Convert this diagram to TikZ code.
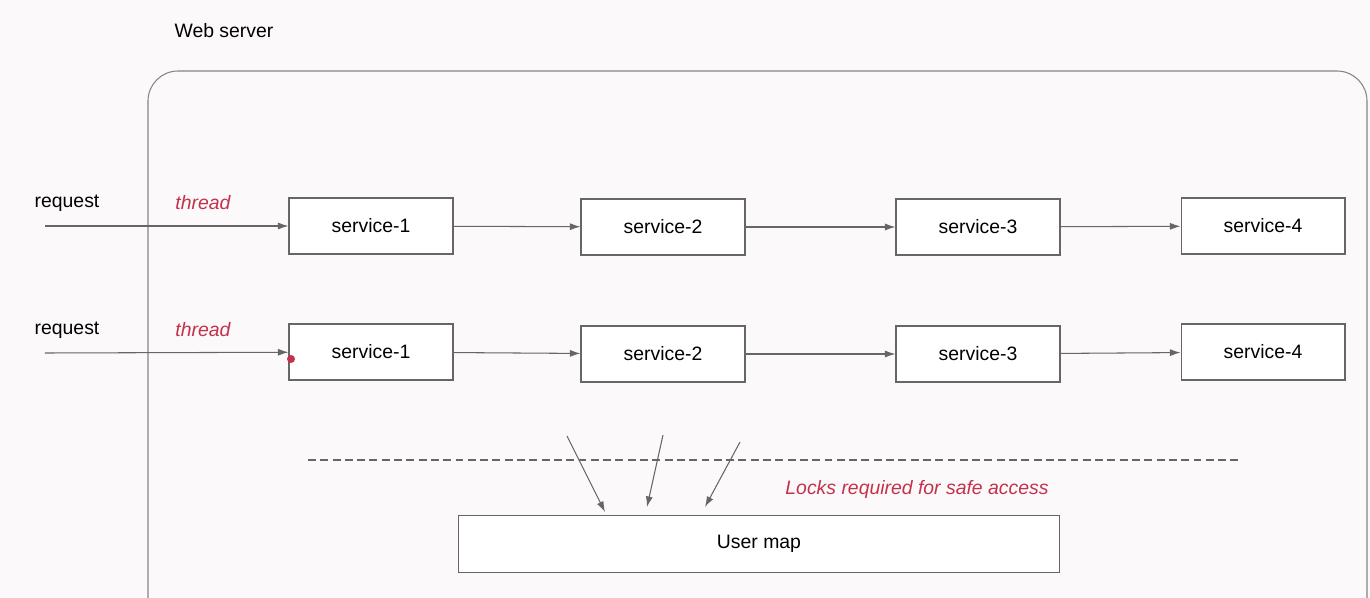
\documentclass[tikz,border=0pt]{standalone}
\usepackage{fontspec}
\setmainfont{Liberation Sans}
\usetikzlibrary{arrows.meta,positioning}
\definecolor{wsGrey}{HTML}{666666}
\definecolor{wsRed}{HTML}{C4314B}
\definecolor{wsBack}{HTML}{FCF9FB}

\begin{document}
\begin{tikzpicture}[
  x=0.02cm, y=-0.02cm,
  >={Latex[length=6pt,width=4pt]},
  font=\fontsize{11bp}{13bp}\selectfont,
  svc/.style   ={draw=wsGrey, fill=white, line width=0.6pt, inner sep=0pt,
                 minimum width=3.28cm, minimum height=1.12cm},
  flow/.style  ={->, draw=wsGrey, line width=0.6pt},
  frame/.style ={draw=wsGrey!80, line width=0.6pt, rounded corners=0.6cm},
  lbl/.style   ={inner sep=0pt},
  thr/.style   ={inner sep=0pt, text=wsRed, font=\fontsize{11bp}{13bp}\selectfont\itshape},
]

% ---- page: the picture is measured in pixels of the 1370 x 598 frame -------------
\useasboundingbox (0,0) rectangle (1370,598);
\fill[wsBack] (0,0) rectangle (1370,598);
\clip (0,0) rectangle (1370,598);

% ---- the web server box, open at the bottom edge ---------------------------------
\node[lbl] (ws) at (224,31) {Web server};
\draw[frame] (148,640) -- (148,71) -- (1367,71) -- (1367,640);

% ============================================================ FIRST REQUEST
\node[lbl] (req1) at (67,203) {request};
\node[thr] (thr1) at (203,203) {thread};
\coordinate (in1) at (45,226);

\node[svc] (s11) at (371,226) {service-1};
\node[svc] (s12) at (663,227) {service-2};
\node[svc] (s13) at (978,227) {service-3};
\node[svc] (s14) at (1263,226) {service-4};

\draw[flow] (in1) -- (s11);
\draw[flow] (s11) -- (s12);
\draw[flow] (s12) -- (s13);
\draw[flow] (s13) -- (s14);

% ============================================================ SECOND REQUEST
\node[lbl] (req2) at (67,330) {request};
\node[thr] (thr2) at (203,330) {thread};
\coordinate (in2) at (45,353);

\node[svc] (s21) at (371,352) {service-1};
\node[svc] (s22) at (663,354) {service-2};
\node[svc] (s23) at (978,354) {service-3};
\node[svc] (s24) at (1263,352) {service-4};

\draw[flow] (in2) -- (s21);
\draw[flow] (s21) -- (s22);
\draw[flow] (s22) -- (s23);
\draw[flow] (s23) -- (s24);

% pointer mark left on the second service-1
\fill[wsRed] (291,359) circle (0.08cm);

% ============================================================ SHARED STATE
\coordinate (dl) at (308,460);
\coordinate (dr) at (1240,460);
\draw[wsGrey, line width=0.6pt, dash pattern=on 4.5pt off 2.5pt] (dl) -- (dr);

\node[svc, minimum width=12.04cm, minimum height=1.14cm] (umap) at (759,544) {User map};
\node[thr] (lock) at (917,489) {Locks required for safe access};

\coordinate (t1) at (567,436);  \coordinate (h1) at (605,512);
\coordinate (t2) at (663,435);  \coordinate (h2) at (647,507);
\coordinate (t3) at (740,442);  \coordinate (h3) at (705,507);
\draw[flow] (t1) -- (h1);
\draw[flow] (t2) -- (h2);
\draw[flow] (t3) -- (h3);

\end{tikzpicture}
\end{document}
